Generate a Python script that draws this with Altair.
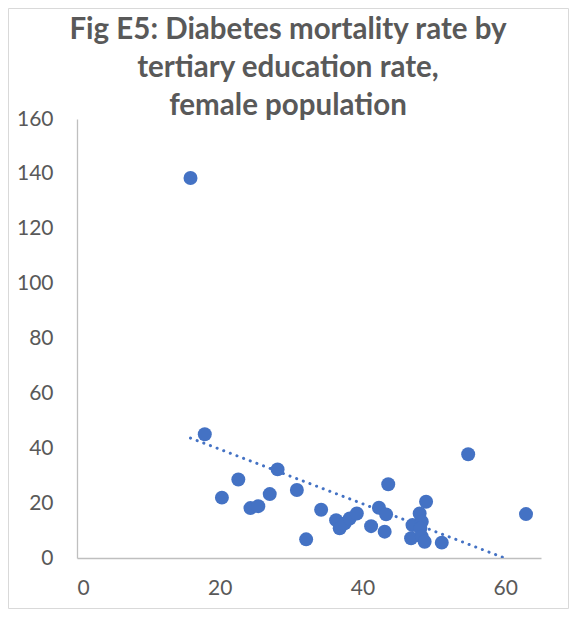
import altair as alt
import pandas as pd

edu = [15.9, 17.9, 20.3, 22.6, 24.3, 25.4, 27.0, 28.1, 30.8, 32.1, 34.2, 36.3,
       36.8, 37.5, 38.2, 39.2, 41.2, 42.3, 43.3, 43.1, 43.6, 46.8, 47.0, 48.0,
       48.3, 48.1, 48.3, 48.7, 48.9, 51.1, 54.8, 62.9]
mort = [138.5, 45.1, 22.0, 28.6, 18.2, 18.9, 23.3, 32.3, 24.8, 6.8, 17.6, 13.8,
        10.8, 12.6, 14.4, 16.2, 11.6, 18.3, 15.9, 9.6, 26.9, 7.2, 12.0, 16.2,
        13.2, 10.8, 7.8, 5.9, 20.5, 5.6, 37.8, 16.0]
title_lines = ["Fig E5: Diabetes mortality rate by", "tertiary education rate,", "female population"]

df = pd.DataFrame({"edu": edu, "mort": mort})

grey = "#595959"
blue = "#4472C4"
font = "Lato"

xs = alt.Scale(domain=[0, 65], nice=False)
ys = alt.Scale(domain=[0, 160], nice=False)

xax = alt.Axis(values=[0, 20, 40, 60], grid=False, ticks=False, domainColor="#BFBFBF",
               domainWidth=1.3, labelFontSize=21, labelColor=grey, labelFont=font,
               labelPadding=19, title=None)
yax = alt.Axis(values=[0, 20, 40, 60, 80, 100, 120, 140, 160], grid=False, ticks=False,
               domainColor="#BFBFBF", domainWidth=1.3, labelFontSize=21, labelColor=grey,
               labelFont=font, labelPadding=24, title=None)

base = alt.Chart(df)

pts = base.mark_circle(size=195, opacity=1, color=blue).encode(
    x=alt.X("edu:Q", scale=xs, axis=xax),
    y=alt.Y("mort:Q", scale=ys, axis=yax),
)

trend = base.transform_regression("edu", "mort").mark_line(
    color=blue, strokeWidth=3, strokeDash=[0.1, 7], strokeCap="round", clip=True
).encode(
    x=alt.X("edu:Q", scale=xs),
    y=alt.Y("mort:Q", scale=ys),
)

one = pd.DataFrame({"k": [0]})

border = alt.Chart(one).mark_rect(
    filled=False, stroke="#D9D9D9", strokeWidth=1, opacity=1
).encode(
    x=alt.value(-68.5), x2=alt.value(491.5), y=alt.value(-110.5), y2=alt.value(489.5)
)

title = alt.Chart(one).mark_text(
    text=title_lines, font=font, fontSize=29.5, fontWeight="bold", color=grey,
    lineHeight=38, align="center", baseline="top"
).encode(x=alt.value(211), y=alt.value(-103))

chart = alt.layer(border, title, trend, pts).properties(
    width=464,
    height=439,
    autosize=alt.AutoSizeParams(type="none"),
    padding={"left": 69, "top": 111, "right": 28, "bottom": 51},
).configure_view(stroke=None)

chart.save("out.html", embed_options={"renderer": "svg", "actions": False})
